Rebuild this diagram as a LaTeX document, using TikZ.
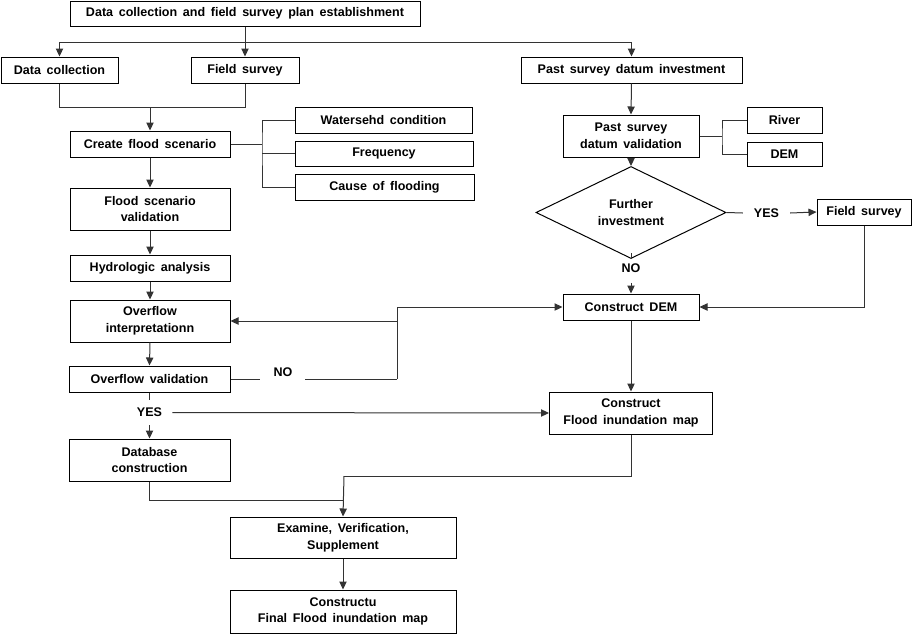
\documentclass[tikz,border=0pt]{standalone}
\usepackage{fontspec}
\setmainfont{Liberation Sans}
\usetikzlibrary{arrows.meta,shapes.geometric}
\newcommand\diagfont{\bfseries\fontsize{9.4pt}{12.5pt}\selectfont\spaceskip=0.45em\relax}
\begin{document}
\begin{tikzpicture}[x=0.75pt,y=-0.75pt,
  every node/.style={font=\diagfont, inner sep=0pt},
  box/.style={draw=black, line width=0.75pt, rectangle, align=center},
  lbl/.style={align=center},
  conn/.style={draw=black!80, line width=0.75pt},
  arr/.style={conn, -{Triangle[length=6pt,width=5.5pt]}}]
\useasboundingbox (0,0) rectangle (917,636);
% boxes
\node[box, minimum width=262.5pt, minimum height=18.75pt] (top) at (245,13.5) {Data collection and field survey plan establishment};
\node[box, minimum width=87.75pt, minimum height=19.5pt] (dc) at (59.5,70) {Data collection};
\node[box, minimum width=81pt, minimum height=19.5pt] (fs) at (245,70) {Field survey};
\node[box, minimum width=165.75pt, minimum height=19.5pt] (psdi) at (631.5,70) {Past survey datum investment};
\node[box, minimum width=120pt, minimum height=19.5pt] (cfs) at (150,144) {Create flood scenario};
\node[box, minimum width=132.75pt, minimum height=19.5pt] (wc) at (383.5,120) {Watersehd condition};
\node[box, minimum width=133.5pt, minimum height=18.75pt] (freq) at (384,153.5) {Frequency};
\node[box, minimum width=134.25pt, minimum height=19.5pt] (cof) at (384.5,187) {Cause of flooding};
\node[box, minimum width=120pt, minimum height=31.5pt] (fsv) at (150,209) {Flood scenario\\validation};
\node[box, minimum width=120pt, minimum height=19.5pt] (ha) at (150,268) {Hydrologic analysis};
\node[box, minimum width=120pt, minimum height=31.5pt] (oi) at (150,321) {Overflow\\interpretationn};
\node[box, minimum width=120.75pt, minimum height=19.5pt] (ov) at (149.5,379) {Overflow validation};
\node[box, minimum width=120.75pt, minimum height=31.5pt] (db) at (149.5,460) {Database\\construction};
\node[box, minimum width=102pt, minimum height=31.5pt] (pdv) at (631,136) {Past survey\\datum validation};
\node[box, minimum width=56.25pt, minimum height=19.5pt] (river) at (784.5,120) {River};
\node[box, minimum width=56.25pt, minimum height=18pt] (dem) at (784.5,154) {DEM};
\node[draw=black, line width=0.75pt, diamond, minimum width=142.5pt, minimum height=51.75pt, align=center] (fi) at (631,212.5) {Further\\investment};
\node[box, minimum width=70.5pt, minimum height=19.5pt] (fs2) at (864,212) {Field survey};
\node[box, minimum width=102pt, minimum height=19.5pt] (cdem) at (631,307) {Construct DEM};
\node[box, minimum width=122.25pt, minimum height=31.5pt] (cfim) at (631,413) {Construct\\Flood inundation map};
\node[box, minimum width=169.5pt, minimum height=30.75pt] (evs) at (343,537.5) {Examine, Verification,\\Supplement};
\node[box, minimum width=169.5pt, minimum height=32.25pt] (final) at (343,611.5) {Constructu\\Final Flood inundation map};
% labels
\node[lbl, minimum width=35pt, minimum height=12pt] (yesR) at (766.5,213) {YES};
\node[lbl, minimum width=20pt, minimum height=22pt] (noR) at (631,268) {NO};
\node[lbl] (noL) at (283,372) {NO};
\node[lbl, minimum width=34pt, minimum height=18.75pt] (yesL) at (149.5,412.5) {YES};
% coordinates
\coordinate (t1) at (245,42);
\coordinate (j1) at (150,107);
\coordinate (b1) at (262,144);
\coordinate (b2) at (722,136);
\coordinate (n1) at (260,379);
\coordinate (n2) at (305,379);
\coordinate (v1) at (397,379);
\coordinate (m1) at (344,500);
\coordinate (m2) at (344,476);
% connectors
\draw[conn] (top.south) -- (t1);
\draw[arr] (t1) -- (fs.north);
\draw[arr] (t1) -| (dc.north);
\draw[arr] (t1) -| (psdi.north);
\draw[conn] (dc.south) |- (fs.south |- j1) -- (fs.south);
\draw[arr] (j1) -- (cfs.north);
\draw[conn] (cfs.east) -- (b1);
\draw[conn] (wc.west) -| (b1) |- (cof.west);
\draw[conn] (b1 |- freq.west) -- (freq.west);
\draw[arr] (cfs.south) -- (fsv.north);
\draw[arr] (fsv.south) -- (ha.north);
\draw[arr] (ha.south) -- (oi.north);
\draw[arr] (oi.south) -- (ov.north);
\draw[conn] (ov.south) -- (yesL.north);
\draw[arr] (yesL.south) -- (db.north);
\draw[arr] (yesL.east) -- (cfim.west);
\draw[conn] (ov.east) -- (n1);
\draw[conn] (n2) -- (v1);
\draw[arr] (v1) |- (cdem.west);
\draw[arr] (v1 |- oi.east) -- (oi.east);
\draw[arr] (psdi.south) -- (pdv.north);
\draw[conn] (pdv.east) -- (b2);
\draw[conn] (river.west) -| (b2) |- (dem.west);
\draw[arr] (pdv.south) -- (fi.north);
\draw[conn] (fi.east) -- (yesR.west);
\draw[arr] (yesR.east) -- (fs2.west);
\draw[conn] (fi.south) -- (noR.north);
\draw[arr] (noR.south) -- (cdem.north);
\draw[arr] (fs2.south) |- (cdem.east);
\draw[arr] (cdem.south) -- (cfim.north);
\draw[conn] (db.south) |- (m1);
\draw[conn] (cfim.south) |- (m2);
\draw[arr] (m2) -- (evs.north);
\draw[arr] (evs.south) -- (final.north);
\end{tikzpicture}
\end{document}
